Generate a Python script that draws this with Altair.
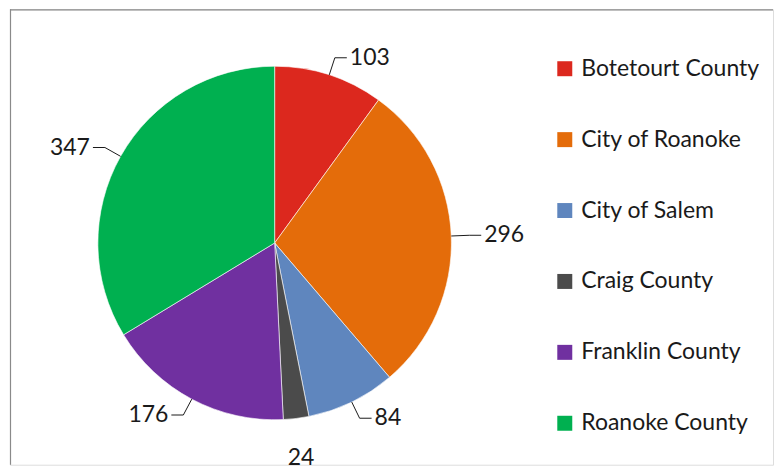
import numpy as np
import pandas as pd
import altair as alt

categories = ["Botetourt County", "City of Roanoke", "City of Salem",
              "Craig County", "Franklin County", "Roanoke County"]
values = [103, 296, 84, 24, 176, 347]
colors = ["#DC281E", "#E46C0A", "#5F86BE", "#4B4B4B", "#7030A0", "#00B050"]

# layout (pixels inside the plot area)
W, H = 764, 456
CX, CY, R = 265, 234, 177
FONT = "Lato"

vals = np.array(values, dtype=float)
cum = np.cumsum(vals)
mid = (cum - vals / 2) / vals.sum() * 2 * np.pi
s, c = np.sin(mid), np.cos(mid)

pie_df = pd.DataFrame({"name": categories, "value": values, "idx": range(len(values))})

line_rows, label_rows = [], []
for i, name in enumerate(categories):
    side = 1 if s[i] >= 0 else -1
    if abs(s[i]) < 0.2:
        rr = R + 40
        label_rows.append({"name": name, "label": str(values[i]),
                           "x": CX + rr * s[i], "y": CY - rr * c[i], "side": "center"})
        continue
    ex, ey = CX + R * s[i], CY - R * c[i]
    bx, by = CX + (R + 18) * s[i], CY - (R + 18) * c[i]
    tx, ty = bx + side * 12, by
    for k, (px, py) in enumerate([(ex, ey), (bx, by), (tx, ty)]):
        line_rows.append({"name": name, "pt": k, "x": px, "y": py})
    label_rows.append({"name": name, "label": str(values[i]),
                       "x": tx + side * 3, "y": ty,
                       "side": "right" if side > 0 else "left"})

line_df = pd.DataFrame(line_rows)
label_df = pd.DataFrame(label_rows)

xs = alt.Scale(domain=[0, W], range=[0, W], nice=False, zero=False)
ys = alt.Scale(domain=[0, H], range=[0, H], nice=False, zero=False)

pie = alt.Chart(pie_df).mark_arc(radius=R, stroke="white", strokeWidth=0.6).encode(
    theta=alt.Theta("value:Q", stack=True),
    order=alt.Order("idx:Q"),
    color=alt.Color("name:N",
                    scale=alt.Scale(domain=categories, range=colors),
                    sort=categories,
                    legend=alt.Legend(title=None, orient="none", legendX=544, legendY=48,
                                      symbolType="square", symbolSize=225,
                                      symbolStrokeWidth=0, labelFont=FONT,
                                      labelFontSize=23, labelColor="#1a1a1a",
                                      labelOffset=5, rowPadding=47, labelLimit=0,
                                      padding=0)),
    x=alt.value(CX),
    y=alt.value(CY),
)

leaders = alt.Chart(line_df).mark_line(color="#1a1a1a", strokeWidth=1).encode(
    x=alt.X("x:Q", scale=xs, axis=None),
    y=alt.Y("y:Q", scale=ys, axis=None),
    detail="name:N",
    order="pt:Q",
)

def text_layer(side, align):
    return alt.Chart(label_df).transform_filter(
        alt.datum.side == side
    ).mark_text(align=align, baseline="middle", font=FONT, fontSize=23,
                color="#1a1a1a").encode(
        x=alt.X("x:Q", scale=xs, axis=None),
        y=alt.Y("y:Q", scale=ys, axis=None),
        text="label:N",
    )

frame_df = pd.DataFrame({"k": [0]})
frame_left = alt.Chart(frame_df).mark_rule(color="#8a8a8a", strokeWidth=1.2).encode(
    x=alt.value(0.5), y=alt.value(0), y2=alt.value(H))
frame_top = alt.Chart(frame_df).mark_rule(color="#8a8a8a", strokeWidth=1.2).encode(
    x=alt.value(0), x2=alt.value(W), y=alt.value(0.5))

chart = alt.layer(
    frame_left, frame_top, pie, leaders,
    text_layer("right", "left"), text_layer("left", "right"), text_layer("center", "center"),
).properties(
    width=W, height=H,
    padding={"left": 1, "top": 0, "right": 0, "bottom": 0},
).configure_view(stroke=None).configure(background="white")

chart.save("out.html", embed_options={"renderer": "svg", "actions": False})
